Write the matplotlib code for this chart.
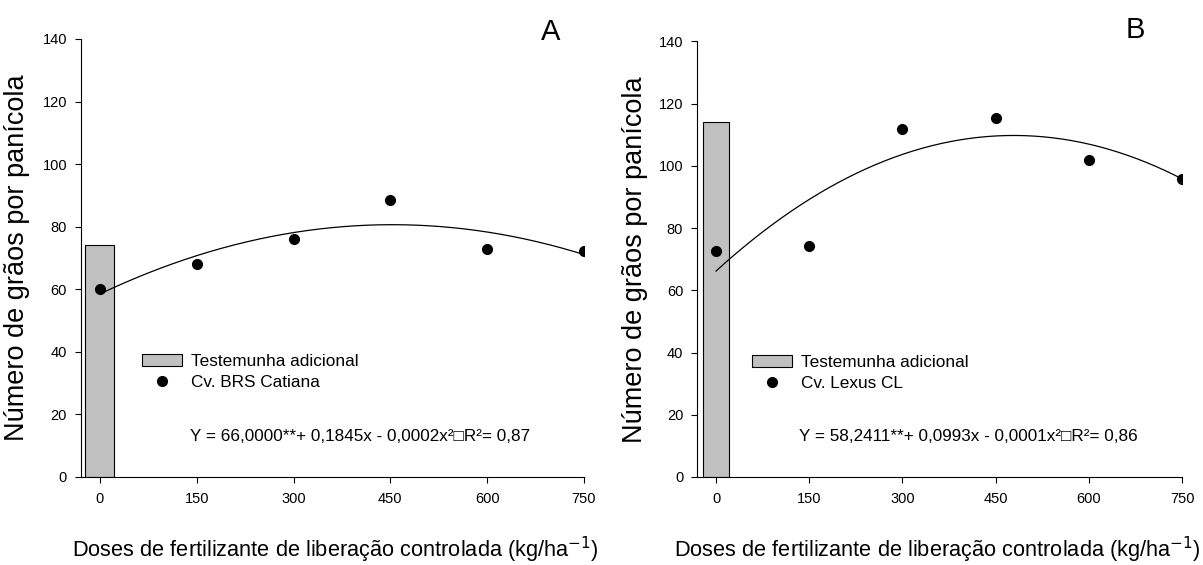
import matplotlib
matplotlib.use("Agg")
import matplotlib.pyplot as plt
from matplotlib.patches import Patch
from matplotlib.lines import Line2D
import numpy as np

plt.rcParams['font.family'] = ['Liberation Sans', 'DejaVu Sans']

doses = [0, 150, 300, 450, 600, 750]
xtick_vals = [0, 150, 300, 450, 600, 750]
ytick_vals = [0, 20, 40, 60, 80, 100, 120, 140]

# panel A - Cv. BRS Catiana
grains_a = [60.0, 68.0, 76.0, 88.5, 72.8, 72.3]
control_a = 74.0
curve_a = [58.5, 0.0978, -0.000108]   # c0, c1, c2 of the drawn fit
eq_a = "Y = 66,0000**+ 0,1845x - 0,0002x\u00b2\u25a1R\u00b2= 0,87"

# panel B - Cv. Lexus CL
grains_b = [72.5, 74.3, 112.0, 115.5, 102.0, 95.7]
control_b = 114.0
curve_b = [66.2, 0.182, -0.00019]
eq_b = "Y = 58,2411**+ 0,0993x - 0,0001x\u00b2\u25a1R\u00b2= 0,86"

xlabel = "Doses de fertilizante de liberação controlada (kg/ha$^{-1}$)"
ylabel = "Número de grãos por panícola"

fig = plt.figure(figsize=(12.03, 5.65), dpi=100)
ax1 = fig.add_axes([0.0673, 0.1558, 0.4181, 0.7752])
ax2 = fig.add_axes([0.5794, 0.1558, 0.4032, 0.7708])


def draw_panel(ax, grains, control, coefs, cultivar, eq, bar_w, xmin,
               letter_xy, letter, leg_xy, eq_xy, ylab_x, xlab_xy):
    ax.bar([0], [control], width=bar_w, color='#c0c0c0', edgecolor='black', linewidth=0.8, zorder=1)
    xs = np.linspace(0, 750, 200)
    ys = coefs[0] + coefs[1] * xs + coefs[2] * xs ** 2
    ax.plot(xs, ys, color='black', linewidth=0.9, zorder=2)
    ax.plot(doses, grains, 'o', color='black', markersize=7, zorder=3)

    ax.set_xlim(xmin, 750)
    ax.set_ylim(0, 140)
    ax.set_xticks(xtick_vals)
    ax.set_yticks(ytick_vals)
    for s in ['top', 'right']:
        ax.spines[s].set_visible(False)
    ax.spines['left'].set_linewidth(0.8)
    ax.spines['bottom'].set_linewidth(0.8)
    ax.tick_params(direction='out', length=4, width=0.8, labelsize=10.5)
    ax.tick_params(axis='x', pad=7)
    ax.tick_params(axis='y', pad=6)

    ax.set_ylabel(ylabel, fontsize=19.5)
    ax.yaxis.set_label_coords(ylab_x, 0.5)
    ax.set_xlabel(xlabel, fontsize=15.7)
    ax.xaxis.set_label_coords(*xlab_xy)

    handles = [Patch(facecolor='#c0c0c0', edgecolor='black', linewidth=0.8),
               Line2D([], [], marker='o', color='black', linestyle='none', markersize=7)]
    ax.legend(handles, ['Testemunha adicional', cultivar], loc='upper left',
              bbox_to_anchor=leg_xy, frameon=False, fontsize=12.4,
              borderpad=0, borderaxespad=0, handlelength=2.3, handleheight=0.7,
              handletextpad=0.53, labelspacing=0.35)
    ax.text(eq_xy[0], eq_xy[1], eq, transform=ax.transAxes, fontsize=12.3,
            va='center', ha='left')
    fig.text(letter_xy[0], letter_xy[1], letter, fontsize=21, ha='center', va='center')


draw_panel(ax1, grains_a, control_a, curve_a, 'Cv. BRS Catiana', eq_a, 45, -29.4,
           (0.458, 0.944), 'A', (0.1213, 0.281), (0.2167, 0.0925), -0.1014, (0.505, -0.132))
draw_panel(ax2, grains_b, control_b, curve_b, 'Cv. Lexus CL', eq_b, 43, -30.6,
           (0.944, 0.947), 'B', (0.1134, 0.280), (0.2103, 0.093), -0.101, (0.4948, -0.1325))

fig.savefig('out.png', dpi=100)
